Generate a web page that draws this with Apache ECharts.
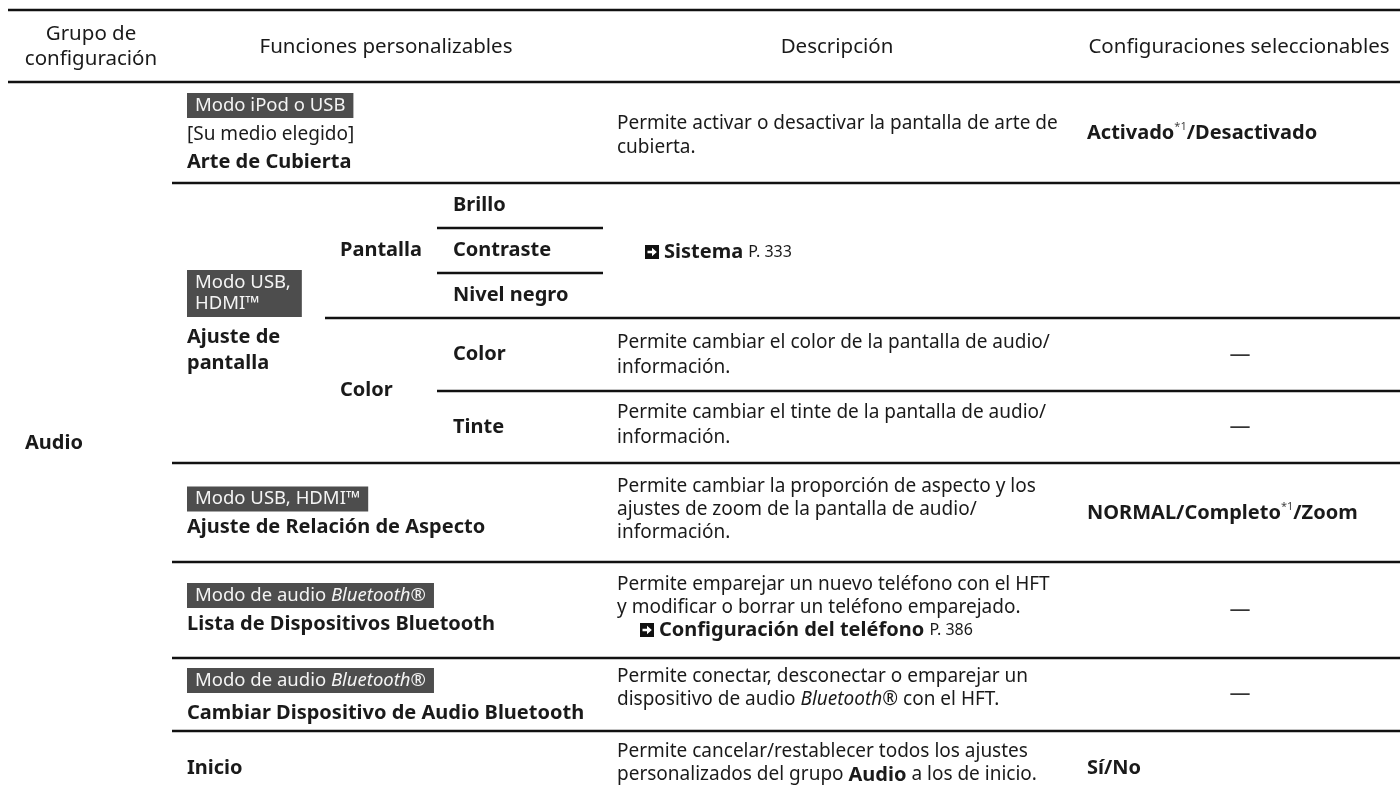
<!DOCTYPE html>
<html>
<head>
<meta charset="utf-8">
<script src="https://cdn.jsdelivr.net/npm/echarts@6/dist/echarts.min.js"></script>
<style>html,body{margin:0;padding:0;background:#fff;}#c{width:1400px;height:800px;}</style>
</head>
<body>
<div id="c"></div>
<script>
// ---------------- DATA (content only) ----------------
const headers = ['Grupo de\nconfiguración', 'Funciones personalizables', 'Descripción', 'Configuraciones seleccionables'];
const groupName = 'Audio';
const modeTags = ['Modo iPod o USB', 'Modo USB,\nHDMI™', 'Modo USB, HDMI™', 'Modo de audio {ti|Bluetooth}®', 'Modo de audio {ti|Bluetooth}®'];
const functionNames = [
  '{r|[Su medio elegido]}\nArte de Cubierta',
  'Ajuste de\npantalla',
  'Ajuste de Relación de Aspecto',
  'Lista de Dispositivos Bluetooth',
  'Cambiar Dispositivo de Audio Bluetooth',
  'Inicio'
];
const subGroups = ['Pantalla', 'Color'];
const subItems = ['Brillo', 'Contraste', 'Nivel negro', 'Color', 'Tinte'];
const descriptions = [
  'Permite activar o desactivar la pantalla de arte de\ncubierta.',
  'Permite cambiar el color de la pantalla de audio/\ninformación.',
  'Permite cambiar el tinte de la pantalla de audio/\ninformación.',
  'Permite cambiar la proporción de aspecto y los\najustes de zoom de la pantalla de audio/\ninformación.',
  'Permite emparejar un nuevo teléfono con el HFT\ny modificar o borrar un teléfono emparejado.',
  'Permite conectar, desconectar o emparejar un\ndispositivo de audio {i|Bluetooth}® con el HFT.',
  'Permite cancelar/restablecer todos los ajustes\npersonalizados del grupo {b|Audio} a los de inicio.'
];
const refTitles = ['Sistema', 'Configuración del teléfono'];
const refPages = ['P. 333', 'P. 386'];
const settings = ['Activado{sup|*1}/Desactivado', '—', '—', 'NORMAL/Completo{sup|*1}/Zoom', '—', '—', 'Sí/No'];

// ---------------- LAYOUT (positions in table units) ----------------
const FONT = '"Noto Sans", "Open Sans", "DejaVu Sans", sans-serif';
const SZ = {header: 20.5, body: 19, bold: 20, tag: 18.5, page: 16, sup: 11, dash: 21};
const L = {
  W: 1400, H: 800,
  hLines: [
    [10, 8, 1400], [82, 8, 1400],
    [183, 172, 1400], [463, 172, 1400], [562, 172, 1400], [658, 172, 1400], [731, 172, 1400],
    [228, 437, 603], [273, 437, 603],
    [318, 325, 1400], [391, 437, 1400]
  ],
  headerX: [91, 386, 837, 1239], headerY: 47,
  groupX: 25, groupY: 443,
  funcX: 187,
  tagY: [105.5, 293.5, 499, 595.5, 680.5],
  funcY: [148.5, 350, 527, 624, 713, 768],
  subGroupX: 340, subGroupY: [250.5, 390.5],
  subItemX: 453, subItemY: [205.5, 250.5, 295.5, 354.5, 427],
  descX: 617, descY: [135.5, 355, 425, 509.5, 596.5, 688.5, 763.5],
  refX: [645, 640], refY: [252, 630],
  setX: 1087, dashX: 1240, setY: [133, 355, 427, 513, 610, 694.5, 768]
};

// ---------------- styles ----------------
const INK = '#1a1a1a';
function tok(size, weight, fstyle, extra) {
  return Object.assign({fontSize: size, fontFamily: FONT, fontWeight: weight || 'normal', fontStyle: fstyle || 'normal', fill: INK}, extra || {});
}
function richSet(lh) {
  return {
    b: tok(SZ.bold, 'bold', 'normal', {lineHeight: lh}),
    r: tok(SZ.body, 'normal', 'normal', {lineHeight: lh}),
    i: tok(SZ.body, 'normal', 'italic', {lineHeight: lh}),
    sup: tok(SZ.sup, 'normal', 'normal', {lineHeight: 16, verticalAlign: 'top', fill: '#444'}),
    pg: tok(SZ.page, 'normal', 'normal', {lineHeight: lh})
  };
}

// ---------------- build element list ----------------
const els = [];
L.hLines.forEach(h => els.push({kind: 'line', y: h[0], x1: h[1], x2: h[2]}));
headers.forEach((t, i) => els.push({kind: 'text', x: L.headerX[i], y: L.headerY, text: t, size: SZ.header, weight: 'normal', lh: 25, align: 'center'}));
els.push({kind: 'text', x: L.groupX, y: L.groupY, text: groupName, size: SZ.bold, weight: 'bold', lh: 24, align: 'left'});
modeTags.forEach((t, i) => els.push({kind: 'tag', x: L.funcX, y: L.tagY[i], text: t}));
functionNames.forEach((t, i) => els.push({kind: 'text', x: L.funcX, y: L.funcY[i], text: t, size: SZ.bold, weight: 'bold', lh: i === 0 ? 27 : 26, align: 'left'}));
subGroups.forEach((t, i) => els.push({kind: 'text', x: L.subGroupX, y: L.subGroupY[i], text: t, size: SZ.bold, weight: 'bold', lh: 24, align: 'left'}));
subItems.forEach((t, i) => els.push({kind: 'text', x: L.subItemX, y: L.subItemY[i], text: t, size: SZ.bold, weight: 'bold', lh: 24, align: 'left'}));
descriptions.forEach((t, i) => els.push({kind: 'text', x: L.descX, y: L.descY[i], text: t, size: SZ.body, weight: 'normal', lh: i < 3 ? 24.5 : 23, align: 'left'}));
refTitles.forEach((t, i) => {
  els.push({kind: 'icon', x: L.refX[i], y: L.refY[i]});
  els.push({kind: 'text', x: L.refX[i] + 19, y: L.refY[i], text: t + ' {pg|' + refPages[i] + '}', size: SZ.bold, weight: 'bold', lh: 23, align: 'left'});
});
settings.forEach((t, i) => {
  if (t === '—') els.push({kind: 'text', x: L.dashX, y: L.setY[i], text: t, size: SZ.dash, weight: 'normal', lh: 24, align: 'center', fill: '#333'});
  else els.push({kind: 'text', x: L.setX, y: L.setY[i], text: t, size: SZ.bold, weight: 'bold', lh: 24, align: 'left'});
});

function renderItem(params, api) {
  const e = els[params.dataIndex];
  if (e.kind === 'line') {
    const a = api.coord([e.x1, e.y]), b = api.coord([e.x2, e.y]);
    return {type: 'line', shape: {x1: a[0], y1: a[1], x2: b[0], y2: b[1]}, style: {stroke: '#111', lineWidth: 2.5}};
  }
  const p = api.coord([e.x, e.y]);
  if (e.kind === 'icon') {
    const s = 14, x = p[0], y = p[1] - s / 2;
    return {type: 'group', children: [
      {type: 'rect', shape: {x: x, y: y, width: s, height: s}, style: {fill: '#111'}},
      {type: 'polygon', shape: {points: [
        [x + 2.5, y + 5.7], [x + 7, y + 5.7], [x + 7, y + 2.7], [x + 11.8, y + 7],
        [x + 7, y + 11.3], [x + 7, y + 8.3], [x + 2.5, y + 8.3]
      ]}, style: {fill: '#fff'}}
    ]};
  }
  if (e.kind === 'tag') {
    const two = e.text.indexOf('\n') >= 0;
    const lh = two ? 21 : 19;
    return {type: 'text', x: p[0], y: p[1], style: {
      text: e.text, fontSize: SZ.tag, fontFamily: FONT, fontWeight: 'normal', fill: '#f4f4f4',
      lineHeight: lh, align: 'left', verticalAlign: 'middle',
      backgroundColor: '#4d4d4d', padding: two ? [2.5, 11, 2.5, 8] : [3, 8, 3, 8],
      rich: {ti: tok(SZ.tag, 'normal', 'italic', {fill: '#f4f4f4', lineHeight: lh})}
    }};
  }
  return {type: 'text', x: p[0], y: p[1], style: {
    text: e.text, fontSize: e.size, fontFamily: FONT, fontWeight: e.weight, fill: e.fill || INK,
    lineHeight: e.lh, align: e.align, verticalAlign: 'middle',
    rich: richSet(e.lh)
  }};
}

const chart = echarts.init(document.getElementById('c'), null, {renderer: 'canvas'});
chart.setOption({
  animation: false,
  backgroundColor: '#ffffff',
  grid: {left: 0, right: 0, top: 0, bottom: 0},
  xAxis: {type: 'value', min: 0, max: L.W, show: false},
  yAxis: {type: 'value', min: 0, max: L.H, inverse: true, show: false},
  series: [{
    type: 'custom',
    coordinateSystem: 'cartesian2d',
    renderItem: renderItem,
    data: els.map((e, i) => [i]),
    encode: {x: -1, y: -1},
    silent: true,
    clip: false
  }]
});
</script>
</body>
</html>
